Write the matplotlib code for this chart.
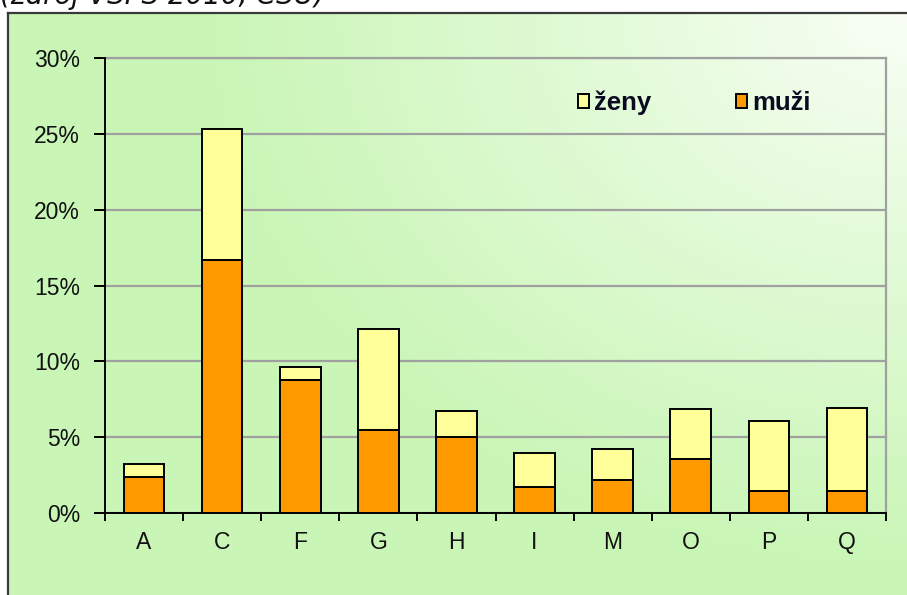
import numpy as np
import matplotlib
matplotlib.use("Agg")
import matplotlib.pyplot as plt
from matplotlib.patches import Patch, Rectangle
from matplotlib.ticker import FuncFormatter, FixedLocator

# ---- data ----
categories = ['A', 'C', 'F', 'G', 'H', 'I', 'M', 'O', 'P', 'Q']
muzi = [2.4, 16.7, 8.8, 5.5, 5.0, 1.7, 2.2, 3.55, 1.45, 1.45]
zeny = [0.8, 8.6, 0.8, 6.6, 1.7, 2.25, 2.0, 3.3, 4.6, 5.5]
y_ticks = [0, 5, 10, 15, 20, 25, 30]
legend_labels = ['ženy', 'muži']
source_text = '(zdroj VSPS 2010, ČSÚ)'

W, H = 907, 595
DPI = 100
fig = plt.figure(figsize=(W / DPI, H / DPI), dpi=DPI)
fig.patch.set_facecolor('white')

# ---- background gradient ----
bg = fig.add_axes([0, 0, 1, 1], zorder=-10)
bg.set_xlim(0, W)
bg.set_ylim(H, 0)
bg.axis('off')
yy, xx = np.mgrid[0:H, 0:W]
d = np.sqrt(((xx - 900) / 700.0) ** 2 + ((yy - 10) / 560.0) ** 2)
t = np.clip(d, 0, 1) ** 0.9
light = np.array([250, 255, 247]) / 255.0
green = np.array([201, 246, 182]) / 255.0
img = light[None, None, :] * (1 - t[..., None]) + green[None, None, :] * t[..., None]
bg.imshow(img, extent=(0, W, H, 0), aspect='auto', interpolation='bilinear')
bg.add_patch(Rectangle((0, 0), W, 13, facecolor='white', edgecolor='none'))
bg.add_patch(Rectangle((0, 0), 8, H, facecolor='white', edgecolor='none'))
bg.plot([8, 8], [13, H + 5], color='#3a3a3a', lw=1.6, solid_capstyle='projecting')
bg.plot([8, W + 5], [13, 13], color='#3a3a3a', lw=1.6, solid_capstyle='projecting')
bg.text(0, 4, source_text, fontsize=20, style='italic', family='DejaVu Sans',
        color='#111111', ha='left', va='baseline')

# ---- main axes ----
L, R, T, B = 105, 886, 58, 513
ax = fig.add_axes([L / W, 1 - B / H, (R - L) / W, (B - T) / H])
ax.patch.set_alpha(0)

x = np.arange(len(categories))
ax.bar(x, muzi, width=0.52, color='#ff9900', edgecolor='black', linewidth=1.4, zorder=3)
ax.bar(x, zeny, width=0.52, bottom=muzi, color='#ffff99', edgecolor='black', linewidth=1.4, zorder=3)

ax.set_xlim(-0.5, len(categories) - 0.5)
ax.set_ylim(0, 30)
ax.yaxis.set_major_locator(FixedLocator(y_ticks))
ax.yaxis.set_major_formatter(FuncFormatter(lambda v, p: f'{v:.0f}%'))
ax.grid(axis='y', color='#a0a0a0', lw=1.6, zorder=1)
ax.set_axisbelow(True)

# x ticks: boundary marks (major, no labels), labels at centers (minor, no marks)
ax.set_xticks(np.arange(-0.5, len(categories), 1.0))
ax.set_xticklabels([])
ax.set_xticks(x, minor=True)
ax.set_xticklabels(categories, minor=True)
ax.tick_params(axis='x', which='major', direction='out', length=6, width=1.4, color='black')
ax.tick_params(axis='x', which='minor', length=0, pad=13, labelsize=16.5, labelcolor='#111111')
ax.tick_params(axis='y', direction='out', length=8, width=1.4, color='black',
               pad=10, labelsize=16.5, labelcolor='#111111')
for lab in ax.get_xticklabels(minor=True) + ax.get_yticklabels():
    lab.set_family('Liberation Sans')

for s in ['left', 'bottom']:
    ax.spines[s].set_color('black')
    ax.spines[s].set_linewidth(1.4)
    ax.spines[s].set_zorder(4)
for s in ['top', 'right']:
    ax.spines[s].set_color('#a0a0a0')
    ax.spines[s].set_linewidth(1.6)

handles = [Patch(facecolor='#ffff99', edgecolor='black', linewidth=1.4),
           Patch(facecolor='#ff9900', edgecolor='black', linewidth=1.4)]
leg = fig.legend(handles, legend_labels, loc='center',
                 bbox_to_anchor=(694 / W, 1 - 103 / H),
                 bbox_transform=fig.transFigure, ncol=2, frameon=False,
                 handlelength=0.43, handleheight=0.43, handletextpad=0.2,
                 columnspacing=3.3, borderpad=0,
                 prop={'family': 'Liberation Sans', 'weight': 'bold', 'size': 18.5})
for txt in leg.get_texts():
    txt.set_color('#0a0a20')

fig.savefig('out.png', dpi=DPI)
